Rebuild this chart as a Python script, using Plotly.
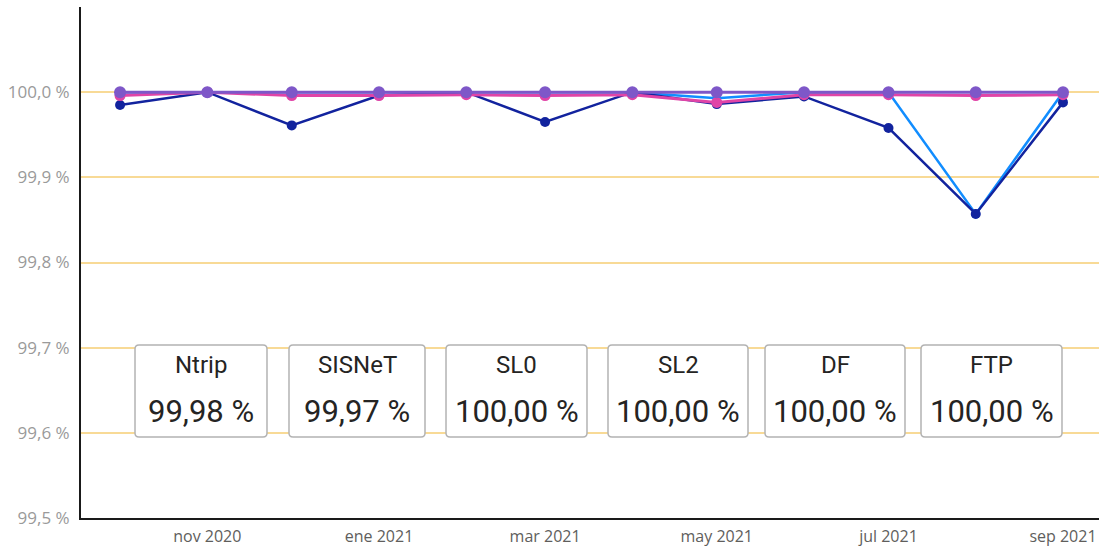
import plotly.graph_objects as go

months = ["2020-10-01", "2020-11-01", "2020-12-01", "2021-01-01", "2021-02-01", "2021-03-01",
          "2021-04-01", "2021-05-01", "2021-06-01", "2021-07-01", "2021-08-01", "2021-09-01"]

navy_vals = [99.985, 100.0, 99.961, 99.996, 100.0, 99.965, 100.0, 99.986, 99.995, 99.958, 99.857, 99.988]
blue_vals = [100.0, 100.0, 100.0, 100.0, 100.0, 100.0, 100.0, 99.993, 100.0, 100.0, 99.857, 100.0]
pink_vals = [99.996, 100.0, 99.996, 99.996, 99.997, 99.996, 99.997, 99.988, 99.997, 99.997, 99.996, 99.997]
purple_vals = [100.0] * 12

y_tickvals = [99.5, 99.6, 99.7, 99.8, 99.9, 100.0]
y_ticktext = ["99,5 %", "99,6 %", "99,7 %", "99,8 %", "99,9 %", "100,0 %"]
x_tickvals = ["2020-11-01", "2021-01-01", "2021-03-01", "2021-05-01", "2021-07-01", "2021-09-01"]
x_ticktext = ["nov 2020", "ene 2021", "mar 2021", "may 2021", "jul 2021", "sep 2021"]

card_labels = ["Ntrip", "SISNeT", "SL0", "SL2", "DF", "FTP"]
card_values = ["99,98 %", "99,97 %", "100,00 %", "100,00 %", "100,00 %", "100,00 %"]

fig = go.Figure()
series = [
    (blue_vals, "#118DFF", 2.5, 9),
    (navy_vals, "#12239E", 2.5, 10),
    (pink_vals, "#E044A7", 3, 11),
    (purple_vals, "#7E57C8", 3, 12),
]
for vals, col, w, ms in series:
    fig.add_trace(go.Scatter(x=months, y=vals, mode="lines+markers",
                             line=dict(color=col, width=w),
                             marker=dict(color=col, size=ms),
                             showlegend=False, cliponaxis=False))

W, H = 1099, 546
L, R, T, B = 81, 0, 7, 28
pw, ph = W - L - R, H - T - B

def px2paper(x, y):
    return (x - L) / pw, (H - B - y) / ph

card_boxes = [(135, 267), (289, 425), (446, 587), (608, 748), (765, 905), (921, 1062)]
top_px, bot_px = 345, 437
shapes = []
annotations = []
r = 4
for (x0, x1), lab, val in zip(card_boxes, card_labels, card_values):
    def P(x, y):
        a, b = px2paper(x, y)
        return f"{a:.5f},{b:.5f}"
    path = (f"M {P(x0 + r, top_px)} L {P(x1 - r, top_px)} Q {P(x1, top_px)} {P(x1, top_px + r)} "
            f"L {P(x1, bot_px - r)} Q {P(x1, bot_px)} {P(x1 - r, bot_px)} "
            f"L {P(x0 + r, bot_px)} Q {P(x0, bot_px)} {P(x0, bot_px - r)} "
            f"L {P(x0, top_px + r)} Q {P(x0, top_px)} {P(x0 + r, top_px)} Z")
    shapes.append(dict(type="path", xref="paper", yref="paper", path=path,
                       fillcolor="white", line=dict(color="#B3B3B3", width=1.5), layer="above"))
    cx, _ = px2paper((x0 + x1) / 2, 0)
    _, ty = px2paper(0, 365)
    _, vy = px2paper(0, 411)
    annotations.append(dict(x=cx, y=ty, xref="paper", yref="paper", text=lab, showarrow=False,
                            font=dict(family="Roboto", size=24, color="#252423"),
                            xanchor="center", yanchor="middle"))
    annotations.append(dict(x=cx, y=vy, xref="paper", yref="paper", text=val, showarrow=False,
                            font=dict(family="Roboto", size=31, color="#252423"),
                            xanchor="center", yanchor="middle"))

fig.update_layout(
    width=W, height=H,
    margin=dict(l=L, r=R, t=T, b=B, pad=0),
    paper_bgcolor="white", plot_bgcolor="white",
    shapes=shapes, annotations=annotations,
    xaxis=dict(type="date", range=["2020-09-17 03:00", "2021-09-13 19:00"],
               tickvals=x_tickvals, ticktext=x_ticktext, showgrid=False,
               showline=True, linecolor="#1a1a1a", linewidth=2,
               tickfont=dict(family="Open Sans", size=16, color="#605E5C"),
               ticks="outside", ticklen=3, tickcolor="rgba(0,0,0,0)",
               zeroline=False, automargin=False),
    yaxis=dict(range=[99.5, 100.1], tickvals=y_tickvals, ticktext=y_ticktext,
               showgrid=True, gridcolor="#F8DA96", gridwidth=2,
               showline=True, linecolor="#1a1a1a", linewidth=2,
               tickfont=dict(family="Open Sans", size=17, color="#9a9a9a"),
               ticks="outside", ticklen=6, tickcolor="rgba(0,0,0,0)", zeroline=False,
               automargin=False),
)

fig.write_html("out.html", config={"displayModeBar": False},
               post_script="document.body.style.margin='0';document.body.style.overflow='hidden';")
